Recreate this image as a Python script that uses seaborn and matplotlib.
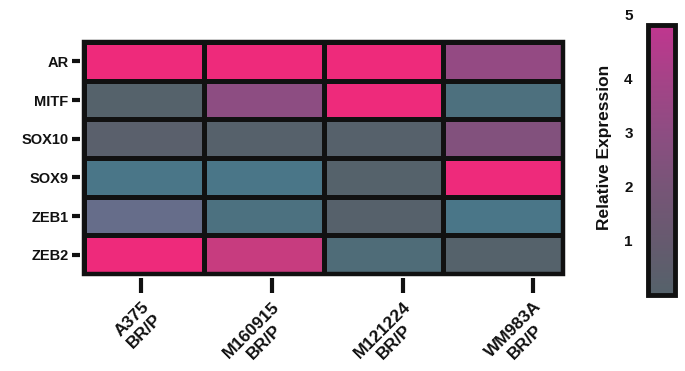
import numpy as np
import pandas as pd
import matplotlib
matplotlib.use("Agg")
import matplotlib.pyplot as plt
from matplotlib.colors import LinearSegmentedColormap
from matplotlib.patches import Rectangle
import seaborn as sns

# ---- data ----
genes = ["AR", "MITF", "SOX10", "SOX9", "ZEB1", "ZEB2"]
cell_lines = ["A375\nBR/P", "M160915\nBR/P", "M121224\nBR/P", "WM983A\nBR/P"]
ar = [6.0, 6.0, 6.0, 3.3]
mitf = [0.05, 3.0, 6.0, -0.6]
sox10 = [0.3, 0.1, 0.1, 2.5]
sox9 = [-1.0, -1.0, 0.0, 6.0]
zeb1 = [-1.5, -0.7, 0.1, -1.0]
zeb2 = [6.0, 5.25, -0.4, 0.0]
cbar_ticks = [1, 2, 3, 4]
cbar_top_label = "5"

df = pd.DataFrame([ar, mitf, sox10, sox9, zeb1, zeb2], index=genes, columns=cell_lines)

# ---- colormap ----
vmin, vmax = -1.5, 6.0
nodes = [(-1.5, "#666D8A"), (-1.0, "#4A7688"), (-0.5, "#4E6E7B"), (0.0, "#55626B"),
         (0.5, "#5D5E6C"), (1.0, "#665A6F"), (2.0, "#775577"), (3.0, "#8D4D82"),
         (4.0, "#A54387"), (5.0, "#C0368F"), (5.25, "#C53D7F"), (5.6, "#EE2A7B"),
         (6.0, "#EE2A7B")]
cmap = LinearSegmentedColormap.from_list(
    "relexp", [((v - vmin) / (vmax - vmin), c) for v, c in nodes])

sns.set_style("white")
plt.rcParams["font.family"] = ["Liberation Sans", "DejaVu Sans"]
plt.rcParams["font.weight"] = "bold"
ink = "#111111"
plt.rcParams["text.color"] = ink
plt.rcParams["axes.labelcolor"] = ink
plt.rcParams["xtick.color"] = ink
plt.rcParams["ytick.color"] = ink

fig = plt.figure(figsize=(6.85, 3.71), dpi=100)
W, H = 685, 371
ax = fig.add_axes([84 / W, (H - 274) / H, (563 - 84) / W, (274 - 42) / H])
cax = fig.add_axes([648 / W, (H - 295) / H, (675 - 648) / W, (295 - 25) / H])

sns.heatmap(df, ax=ax, cmap=cmap, vmin=vmin, vmax=vmax, linewidths=2.5,
            linecolor=ink, cbar=True, cbar_ax=cax)

# heatmap border
ax.add_patch(Rectangle((0, 0), 1, 1, transform=ax.transAxes, fill=False,
                       lw=3.2, ec=ink, clip_on=False, zorder=5))
for s in ax.spines.values():
    s.set_visible(False)
ax.spines["left"].set_position(("outward", 3))
ax.spines["bottom"].set_position(("outward", 3))

# x ticks (Prism-style spacing)
xtick_pos = [0.48 + i * 1.09 for i in range(len(cell_lines))]
ax.set_xticks(xtick_pos)
ax.set_xticklabels(cell_lines)
ax.tick_params(axis="x", length=11, width=3, pad=4, labelsize=12.5, color=ink,
               labelcolor=ink, bottom=True)
for lab in ax.get_xticklabels():
    lab.set_rotation(45)
    lab.set_rotation_mode("anchor")
    lab.set_ha("right")
    lab.set_va("top")
    lab.set_multialignment("center")
    lab.set_fontweight("bold")

ax.tick_params(axis="y", length=6, width=3, pad=2, labelsize=10.5, color=ink,
               labelcolor=ink, left=True)
for lab in ax.get_yticklabels():
    lab.set_rotation(0)
    lab.set_fontweight("bold")
ax.set_xlabel("")
ax.set_ylabel("")

# colorbar
cbar = ax.collections[0].colorbar
cax.set_ylim(0, 5)
cbar.outline.set_visible(True)
cbar.outline.set_linewidth(3.5)
cbar.outline.set_edgecolor(ink)
cax.set_yticks(cbar_ticks)
cax.set_yticklabels([str(t) for t in cbar_ticks])
cax.yaxis.set_ticks_position("both")
cax.tick_params(axis="y", direction="in", length=3, width=2.5, labelleft=True,
                labelright=False, pad=11, labelsize=11, color=ink, labelcolor=ink)
for lab in cax.get_yticklabels():
    lab.set_fontweight("bold")
cax.annotate(cbar_top_label, xy=(0, 5), xycoords=("axes fraction", "data"),
             xytext=(-11, 6.5), textcoords="offset points", ha="right", va="center",
             fontsize=11, fontweight="bold", color=ink)
cax.yaxis.set_label_position("left")
cax.set_ylabel("Relative Expression", fontsize=12.5, fontweight="bold", color=ink)
cax.yaxis.set_label_coords(-1.33, 0.545)

fig.savefig("out.png", dpi=100)
